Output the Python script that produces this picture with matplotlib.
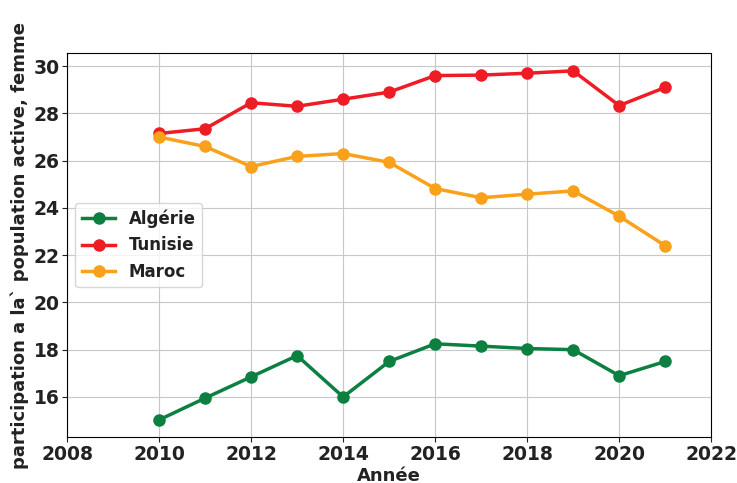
import numpy as np
import matplotlib
matplotlib.use('Agg')
from matplotlib import pyplot as plt

annees = [2010, 2011, 2012, 2013, 2014, 2015, 2016, 2017, 2018, 2019, 2020, 2021]
algerie = [15.03, 15.95, 16.85, 17.75, 16.0, 17.5, 18.25, 18.15, 18.05, 18.0, 16.9, 17.5]
tunisie = [27.15, 27.35, 28.45, 28.3, 28.6, 28.9, 29.6, 29.62, 29.7, 29.8, 28.33, 29.1]
maroc = [27.0, 26.6, 25.75, 26.18, 26.3, 25.93, 24.82, 24.43, 24.58, 24.72, 23.65, 22.4]

plt.rcParams['font.weight'] = 'bold'
plt.rcParams['axes.labelweight'] = 'bold'
plt.rcParams['text.color'] = '#222222'
plt.rcParams['axes.labelcolor'] = '#222222'
plt.rcParams['xtick.color'] = '#222222'
plt.rcParams['ytick.color'] = '#222222'

fig, ax = plt.subplots(figsize=(7.37, 4.83), dpi=100)
ax.plot(annees, algerie, '-o', color='#0b8040', lw=2.5, ms=8, label='Algérie')
ax.plot(annees, tunisie, '-o', color='#ee1c25', lw=2.5, ms=8, label='Tunisie')
ax.plot(annees, maroc, '-o', color='#f9a11b', lw=2.5, ms=8, label='Maroc')

ax.set_xlim(2008, 2022)
ax.set_ylim(14.3, 30.55)
ax.set_xticks(np.arange(2008, 2023, 2))
ax.tick_params(labelsize=13.5, pad=2)
ax.grid(True, color='#c8c8c8')
ax.set_xlabel('Année', fontsize=13, labelpad=2)
ax.set_ylabel('participation a la` population active, femme', fontsize=13, labelpad=3)
ax.legend(loc='center left', bbox_to_anchor=(0.0, 0.5), fontsize=12,
          handlelength=2.0, borderaxespad=0.5)
fig.subplots_adjust(left=0.091, right=0.965, top=0.89, bottom=0.095)
fig.savefig('out.png')
